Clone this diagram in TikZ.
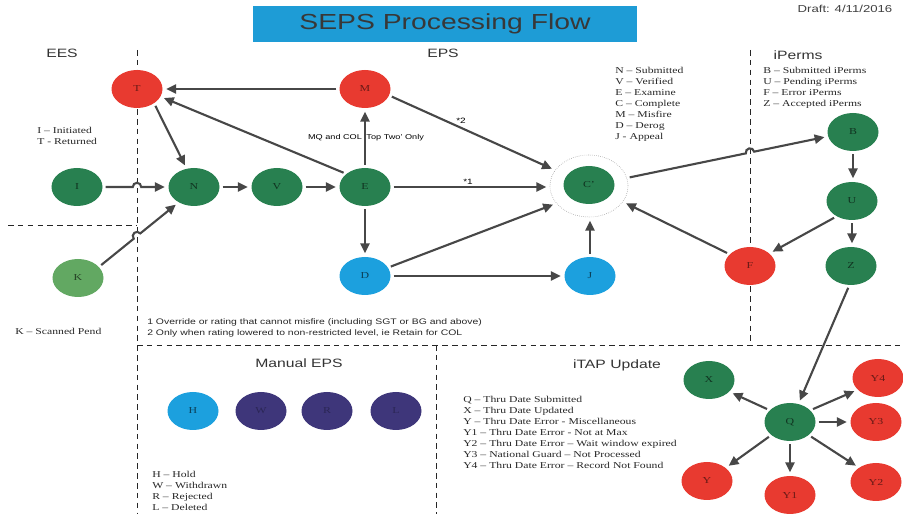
\documentclass[tikz,border=0pt]{standalone}
\usepackage{fontspec}
\setmainfont{Liberation Serif}[FakeStretch=1.3]
\setsansfont{Liberation Sans}[FakeStretch=1.3]
\usetikzlibrary{shapes.geometric,arrows.meta,calc,intersections}

\definecolor{sepsgreen}{RGB}{40,128,80}
\definecolor{sepslight}{RGB}{98,168,98}
\definecolor{sepsred}{RGB}{232,58,48}
\definecolor{sepsblue}{RGB}{28,160,222}
\definecolor{sepspurple}{RGB}{62,54,122}
\definecolor{titleblue}{RGB}{30,156,214}

\tikzset{
  stnode/.style={ellipse, minimum width=12.75mm, minimum height=9.5mm, inner sep=0pt,
    font=\fontsize{6.5}{6.5}\selectfont},
  greenst/.style={stnode, fill=sepsgreen, text=sepsgreen!40!black},
  lightst/.style={stnode, fill=sepslight, text=sepslight!40!black},
  redst/.style={stnode, fill=sepsred, text=sepsred!45!black},
  bluest/.style={stnode, fill=sepsblue, text=sepsblue!40!black},
  purplest/.style={stnode, fill=sepspurple, text=sepspurple!70!black},
  ring/.style={ellipse, draw=black!45, densely dotted, line width=0.4pt,
    minimum width=19.5mm, minimum height=15.5mm},
  flow/.style={draw=black!72, line width=1.5pt, -{Triangle[length=7pt,width=6.5pt]},
    shorten >=2.5pt, shorten <=2pt},
  sepdash/.style={draw=black!85, line width=0.6pt, dash pattern=on 4pt off 3pt},
  heading/.style={font=\sffamily\fontsize{8.6}{9}\selectfont, text=black!80},
  legend/.style={anchor=north west, align=left, inner sep=0pt,
    font=\fontsize{6.4}{7.8}\selectfont, text=black!85},
  note/.style={anchor=north west, align=left, inner sep=0pt,
    font=\sffamily\fontsize{5.7}{7.8}\selectfont, text=black!85},
  titlebox/.style={fill=titleblue, minimum width=96mm, minimum height=9mm, inner sep=0pt,
    font=\sffamily\fontsize{15.5}{15.5}\selectfont, text=black!78}
}

\begin{document}
\begin{tikzpicture}[x=0.25mm, y=-0.25mm]
  \useasboundingbox (0,0) rectangle (903,514);
  %
  \draw[sepdash, name path=eesline] (137,50) -- (137,514);
  \draw[sepdash] (8,225) -- (137,225);
  \draw[sepdash, name path=ipline] (750,50) -- (750,345);
  \draw[sepdash] (137,345) -- (903,345);
  \draw[sepdash] (436,345) -- (436,514);
  %
  \node[titlebox] (title) at (445,24) {SEPS Processing Flow};
  \node[font=\sffamily\fontsize{7.2}{7.2}\selectfont, text=black!75] (draft) at (845,9) {Draft: 4/11/2016};
  \node[heading] (ees) at (62,53) {EES};
  \node[heading] (eps) at (443,53) {EPS};
  \node[heading] (iperms) at (798,55) {iPerms};
  \node[heading] (manual) at (299,363) {Manual EPS};
  \node[heading] (itap) at (617,365) {iTAP Update};
  %
  \node[legend] (eeskey) at (37,127) {I -- Initiated\\T - Returned};
  \node[legend, anchor=west] (kkey) at (15,331) {K -- Scanned Pend};
  \node[legend] (epskey) at (615,67) {N -- Submitted\\V -- Verified\\E -- Examine\\C -- Complete\\M -- Misfire\\D -- Derog\\J - Appeal};
  \node[legend] (ipkey) at (763,67) {B -- Submitted iPerms\\U -- Pending iPerms\\F -- Error iPerms\\Z -- Accepted iPerms};
  \node[legend] (mankey) at (152,471) {H -- Hold\\W -- Withdrawn\\R -- Rejected\\L -- Deleted};
  \node[legend] (itapkey) at (463,396) {Q -- Thru Date Submitted\\X -- Thru Date Updated\\Y -- Thru Date Error - Miscellaneous\\Y1 -- Thru Date Error - Not at Max\\Y2 -- Thru Date Error -- Wait window expired\\Y3 -- National Guard -- Not Processed\\Y4 -- Thru Date Error -- Record Not Found};
  \node[note] (notes) at (147,318) {1 Override or rating that cannot misfire (including SGT or BG and above)\\2 Only when rating lowered to non-restricted level, ie Retain for COL};
  \node[font=\sffamily\fontsize{5}{5}\selectfont] (mqnote) at (366,138) {MQ and COL `Top Two' Only};
  \node[font=\sffamily\fontsize{5.5}{5.5}\selectfont] (star2) at (461,121) {*2};
  \node[font=\sffamily\fontsize{5.5}{5.5}\selectfont] (star1) at (468,182) {*1};
  %
  \node[redst] (T) at (137,89) {T};
  \node[redst] (M) at (365,89) {M};
  \node[greenst] (I) at (77,187) {I};
  \node[greenst] (N) at (194,187) {N};
  \node[greenst] (V) at (277,187) {V};
  \node[greenst] (E) at (365,187) {E};
  \node[lightst] (K) at (78,278) {K};
  \node[bluest] (D) at (365,276) {D};
  \node[ring] (Cring) at (589,186) {};
  \node[greenst] (C) at (589,185) {C'};
  \node[bluest] (J) at (590,276) {J};
  \node[redst] (F) at (750,266) {F};
  \node[greenst] (B) at (853,132) {B};
  \node[greenst] (U) at (852,201) {U};
  \node[greenst] (Z) at (851,266) {Z};
  %
  \node[bluest] (H) at (193,411) {H};
  \node[purplest] (W) at (261,411) {W};
  \node[purplest] (R) at (327,411) {R};
  \node[purplest] (L) at (396,411) {L};
  %
  \node[greenst] (Q) at (790,422) {Q};
  \node[greenst] (X) at (709,380) {X};
  \node[redst] (Y4) at (878,378) {Y4};
  \node[redst] (Y3) at (876,422) {Y3};
  \node[redst] (Y2) at (876,482) {Y2};
  \node[redst] (Y1) at (790,495) {Y1};
  \node[redst] (Y) at (707,481) {Y};
  %
  \coordinate (ix) at (137,187);
  \draw[flow] (I.east) -- ($(ix)+(-3pt,0)$) arc[start angle=180, end angle=0, radius=3pt] -- (N.west);
  \path[name path=kline] (K.28) -- (N.225);
  \path[name intersections={of=kline and eesline, by=kx}];
  \draw[flow] (K.28) -- ($(kx)!3pt!(K.28)$) arc[start angle=219, end angle=39, radius=3pt] -- (N.225);
  \draw[flow] (N) -- (V);
  \draw[flow] (V) -- (E);
  \draw[flow] (M.west) -- (T.east);
  \draw[flow] (T.-40) -- (N.112);
  \draw[flow] (E.145) -- (T.-18);
  \draw[flow] (E.north) -- (M.south);
  \draw[flow] (M.-15) -- (Cring.155);
  \draw[flow] (E.east) -- (E.east -| Cring.west);
  \draw[flow] (E.south) -- (D.north);
  \draw[flow] (D.20) -- (Cring.208);
  \draw[flow] (D.east) -- (J.west);
  \draw[flow] (J.north) -- (J.north |- Cring.south);
  \draw[flow] (F.150) -- (Cring.-25);
  \path[name path=cbline] (Cring.12) -- (B.190);
  \path[name intersections={of=cbline and ipline, by=cx}];
  \draw[flow] (Cring.12) -- ($(cx)!3pt!(Cring.12)$) arc[start angle=191.7, end angle=11.7, radius=3pt] -- (B.190);
  \draw[flow] (B.south) -- (B.south |- U.north);
  \draw[flow] (U.225) -- (F.33);
  \draw[flow] (U.south) -- (U.south |- Z.north);
  \draw[flow] (Z.265) -- (Q.65);
  %
  \draw[flow] (Q.150) -- (X.-30);
  \draw[flow] (Q.30) -- (Y4.210);
  \draw[flow] (Q.east) -- (Y3.west);
  \draw[flow] (Q.-35) -- (Y2.140);
  \draw[flow] (Q.south) -- (Y1.north);
  \draw[flow] (Q.-145) -- (Y.35);
\end{tikzpicture}
\end{document}
